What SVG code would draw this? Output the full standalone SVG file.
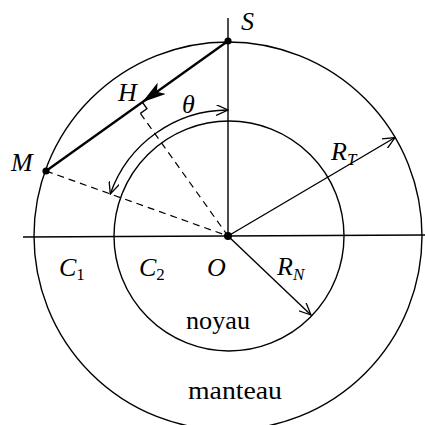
<svg xmlns="http://www.w3.org/2000/svg" width="425" height="425" viewBox="0 0 425 425">
<defs>
<marker id="open" viewBox="0 0 12 10" refX="11" refY="5" markerWidth="13" markerHeight="11" markerUnits="userSpaceOnUse" orient="auto-start-reverse">
<path d="M0,0 L11,5 L0,10" fill="none" stroke="#000" stroke-width="1.2"/>
</marker>
<marker id="solid" viewBox="0 0 24 14" refX="23" refY="7" markerWidth="24" markerHeight="14" markerUnits="userSpaceOnUse" orient="auto">
<path d="M0,0 L24,7 L0,14 L6,7 Z" fill="#000"/>
</marker>
<style>
.ln{fill:none;stroke:#000;stroke-width:1.4}
.dash{fill:none;stroke:#000;stroke-width:1.2;stroke-dasharray:7 5}
.t{font-family:"Liberation Serif","DejaVu Serif",serif;font-style:italic;font-size:26px;fill:#000}
.r{font-family:"Liberation Serif","DejaVu Serif",serif;font-size:26px;fill:#000}
.sub{font-size:17px;font-style:normal}
.subi{font-size:17px}
</style>
</defs>
<rect width="425" height="425" fill="#fff"/>
<g id="circles">
<circle class="ln" cx="228" cy="236" r="194"/>
<circle class="ln" cx="229" cy="236" r="115"/>
</g>
<g id="connectors">
<line class="ln" x1="23" y1="237" x2="425" y2="235"/>
<line class="ln" x1="228" y1="18" x2="228" y2="236"/>
<line class="ln" x1="228" y1="236" x2="395" y2="137.5" marker-end="url(#open)"/>
<line class="ln" x1="228" y1="236" x2="311" y2="315" marker-end="url(#open)"/>
<line class="dash" x1="46" y1="171" x2="228" y2="236"/>
<line class="dash" x1="140.4" y1="113.4" x2="228" y2="236"/>
<line fill="none" stroke="#000" stroke-width="2.3" x1="228" y1="41" x2="46" y2="171"/>
<line fill="none" stroke="none" x1="228" y1="41" x2="143" y2="101.7" marker-end="url(#solid)"/>
<path class="ln" d="M142.3,102.2 L146.9,108.7 L140.4,113.4"/>
<path class="ln" d="M110.3,194 A125,125 0 0 1 228,110" marker-start="url(#open)" marker-end="url(#open)"/>
</g>
<g id="S"><circle cx="228" cy="41" r="3.6"/><text class="t" x="241" y="30">S</text></g>
<g id="M"><circle cx="46" cy="171" r="3.6"/><text class="t" x="11" y="171">M</text></g>
<g id="O"><circle cx="228" cy="236" r="4"/><text class="t" x="207" y="276">O</text></g>
<g id="H"><text class="t" x="118" y="101">H</text></g>
<g id="theta"><text class="t" x="182" y="113">θ</text></g>
<g id="RT"><text class="t" x="331" y="160">R<tspan class="subi" dy="5">T</tspan></text></g>
<g id="RN"><text class="t" x="277" y="275">R<tspan class="subi" dy="5">N</tspan></text></g>
<g id="C1"><text class="t" x="59" y="276">C<tspan class="sub" dy="4">1</tspan></text></g>
<g id="C2"><text class="t" x="139" y="276">C<tspan class="sub" dy="4">2</tspan></text></g>
<g id="noyau"><text class="r" x="186" y="329" textLength="64" lengthAdjust="spacingAndGlyphs">noyau</text></g>
<g id="manteau"><text class="r" x="188" y="399" textLength="94" lengthAdjust="spacingAndGlyphs">manteau</text></g>
</svg>
